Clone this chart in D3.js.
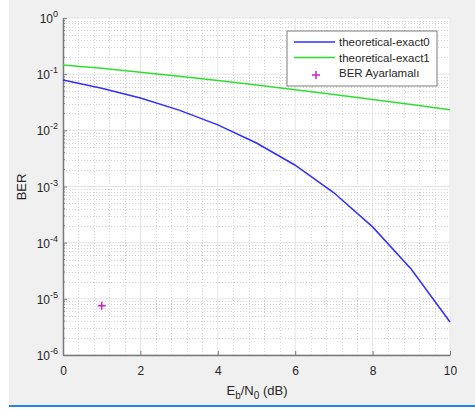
<!DOCTYPE html>
<html>
<head>
<meta charset="utf-8">
<script src="https://cdn.jsdelivr.net/npm/d3@7"></script>
<style>
  body { margin: 0; background: #fff; }
  text { font-family: "Liberation Sans", Arial, sans-serif; fill: #262626; }
</style>
</head>
<body>
<svg id="chart" width="475" height="411"></svg>
<script>
// Eb/N0 in dB
const snrDb = [0, 1, 2, 3, 4, 5, 6, 7, 8, 9, 10];
// theoretical-exact0
const berExact0 = [0.0786, 0.0563, 0.0375, 0.0229, 0.0125, 0.00595, 0.00239, 0.000773, 0.000191, 0.0000336, 0.00000387];
// theoretical-exact1 (green curve)
const berExact1 = [0.146, 0.127, 0.108, 0.092, 0.077, 0.064, 0.053, 0.0435, 0.0355, 0.0288, 0.0233];
// measured point
const berMeasured = [{ x: 1, y: 0.0000075 }];

const xTicks = [0, 2, 4, 6, 8, 10];
const yExp = [0, -1, -2, -3, -4, -5, -6];
const legendNames = ["theoretical-exact0", "theoretical-exact1", "BER Ayarlamalı"];

const svg = d3.select("#chart");
const pLeft = 63, pRight = 450, pTop = 18, pBottom = 355;

// figure background + bottom accent line
svg.append("rect").attr("x", 9).attr("y", 0).attr("width", 466).attr("height", 405).attr("fill", "#f0f0f0");
svg.append("line").attr("x1", 9).attr("x2", 475).attr("y1", 406).attr("y2", 406)
  .attr("stroke", "#1e88e5").attr("stroke-width", 2);

const x = d3.scaleLinear().domain([0, 10]).range([pLeft, pRight]);
const y = d3.scaleLog().domain([1e-6, 1]).range([pBottom, pTop]);

svg.append("rect").attr("x", pLeft).attr("y", pTop)
  .attr("width", pRight - pLeft).attr("height", pBottom - pTop).attr("fill", "#fff");

// minor grid
const g = svg.append("g");
const xMinor = d3.range(0, 10.001, 0.4).filter(v => Math.abs(v / 2 - Math.round(v / 2)) > 0.01);
g.selectAll(".xm").data(xMinor).join("line")
  .attr("x1", d => Math.round(x(d)) + 0.5).attr("x2", d => Math.round(x(d)) + 0.5).attr("y1", pTop).attr("y2", pBottom)
  .attr("stroke", "#d4d4d4").attr("stroke-width", 1).attr("stroke-dasharray", "1,2");
const yMinor = [];
yExp.slice(1).forEach(e => { for (let k = 2; k <= 9; k++) yMinor.push(k * Math.pow(10, e)); });
g.selectAll(".ym").data(yMinor).join("line")
  .attr("x1", pLeft).attr("x2", pRight).attr("y1", d => Math.round(y(d)) + 0.5).attr("y2", d => Math.round(y(d)) + 0.5)
  .attr("stroke", "#d4d4d4").attr("stroke-width", 1).attr("stroke-dasharray", "1,2");

// major grid
g.selectAll(".xg").data(xTicks).join("line")
  .attr("x1", d => x(d)).attr("x2", d => x(d)).attr("y1", pTop).attr("y2", pBottom)
  .attr("stroke", "#e4e4e4");
g.selectAll(".yg").data(yExp).join("line")
  .attr("x1", pLeft).attr("x2", pRight).attr("y1", d => y(Math.pow(10, d))).attr("y2", d => y(Math.pow(10, d)))
  .attr("stroke", "#e4e4e4");

// axes
const xAxis = svg.append("g").attr("transform", `translate(0,${pBottom})`)
  .call(d3.axisBottom(x).tickValues(xTicks).tickSizeInner(-4).tickSizeOuter(0).tickPadding(11));
xAxis.select(".domain").attr("stroke", "#7a7a7a").attr("stroke-width", 1.5);
xAxis.selectAll(".tick line").attr("stroke", "#7a7a7a");
xAxis.selectAll("text").attr("font-size", 12).attr("fill", "#262626")
  .attr("font-family", "Liberation Sans, Arial, sans-serif");

const yAxis = svg.append("g").attr("transform", `translate(${pLeft},0)`)
  .call(d3.axisLeft(y).tickValues(yExp.map(e => Math.pow(10, e))).tickSizeInner(-4).tickSizeOuter(0).tickFormat(""));
yAxis.select(".domain").attr("stroke", "#7a7a7a").attr("stroke-width", 1.5);
yAxis.selectAll(".tick line").attr("stroke", "#7a7a7a");
svg.append("g").selectAll("line").data(yMinor).join("line")
  .attr("x1", pLeft).attr("x2", pLeft + 2).attr("y1", d => y(d)).attr("y2", d => y(d))
  .attr("stroke", "#7a7a7a");

const yLab = svg.append("g").selectAll("text").data(yExp).join("text")
  .attr("x", 58).attr("y", d => y(Math.pow(10, d)) + 5)
  .attr("text-anchor", "end").attr("font-size", 12);
yLab.append("tspan").text("10");
yLab.append("tspan").attr("dy", -6).attr("font-size", 9).text(d => d);

// series
const line = d3.line().x((d, i) => x(snrDb[i])).y(d => y(d));
svg.append("path").datum(berExact0).attr("d", line).attr("fill", "none")
  .attr("stroke", "#2f2fff").attr("stroke-width", 1.5);
svg.append("path").datum(berExact1).attr("d", line).attr("fill", "none")
  .attr("stroke", "#2ee02e").attr("stroke-width", 1.5);
svg.append("g").selectAll("path").data(berMeasured).join("path")
  .attr("d", d => `M${x(d.x) - 4},${y(d.y)}h8M${x(d.x)},${y(d.y) - 4}v8`)
  .attr("stroke", "#cc22cc").attr("stroke-width", 1.5);

// labels
const xl = svg.append("text").attr("x", 257).attr("y", 395).attr("text-anchor", "middle").attr("font-size", 13);
xl.append("tspan").text("E");
xl.append("tspan").attr("dy", 4).attr("font-size", 10).text("b");
xl.append("tspan").attr("dy", -4).text("/N");
xl.append("tspan").attr("dy", 4).attr("font-size", 10).text("0");
xl.append("tspan").attr("dy", -4).text(" (dB)");
svg.append("text").attr("transform", "translate(26,187) rotate(-90)")
  .attr("text-anchor", "middle").attr("font-size", 13).text("BER");

// legend
const lg = svg.append("g");
lg.append("rect").attr("x", 287).attr("y", 31).attr("width", 150).attr("height", 55)
  .attr("fill", "#fff").attr("stroke", "#7a7a7a").attr("stroke-width", 1);
const rowsY = [42, 57.5, 73];
const colors = ["#2f2fff", "#2ee02e", "#cc22cc"];
legendNames.forEach((name, i) => {
  if (i < 2) {
    lg.append("line").attr("x1", 294).attr("x2", 335).attr("y1", rowsY[i]).attr("y2", rowsY[i])
      .attr("stroke", colors[i]).attr("stroke-width", 1.5);
  } else {
    lg.append("path").attr("d", `M${312},${rowsY[i] + 2}h8M${316},${rowsY[i] - 2}v8`)
      .attr("stroke", colors[i]).attr("stroke-width", 1.5);
  }
  lg.append("text").attr("x", 339).attr("y", rowsY[i] + 4).attr("font-size", 11.5).text(name);
});
</script>
</body>
</html>
